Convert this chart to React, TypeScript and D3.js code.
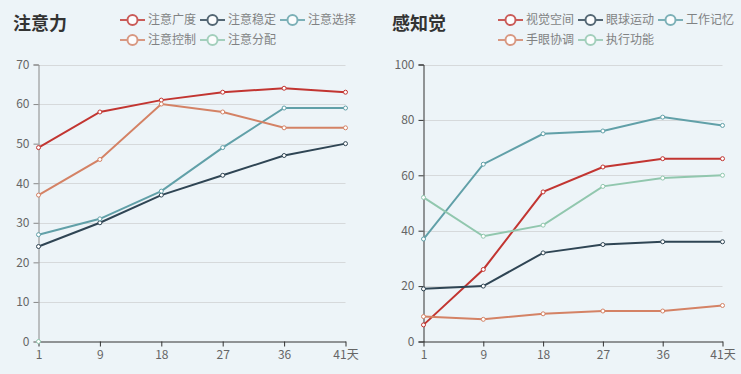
import * as d3 from 'd3';
import { useEffect, useRef } from 'react';

const days = ['1', '9', '18', '27', '36', '41天'];
const colors = ['#c23531', '#2f4554', '#61a0a8', '#d48265', '#91c7ae'];

const attentionNames = ['注意广度', '注意稳定', '注意选择', '注意控制', '注意分配'];
const attentionSpan = [49, 58, 61, 63, 64, 63];
const attentionStable = [24, 30, 37, 42, 47, 50];
const attentionSelect = [27, 31, 38, 49, 59, 59];
const attentionControl = [37, 46, 60, 58, 54, 54];
const attentionSplit = [0];

const perceptNames = ['视觉空间', '眼球运动', '工作记忆', '手眼协调', '执行功能'];
const visualSpace = [6, 26, 54, 63, 66, 66];
const eyeMove = [19, 20, 32, 35, 36, 36];
const workMemory = [37, 64, 75, 76, 81, 78];
const handEye = [9, 8, 10, 11, 11, 13];
const execFunc = [52, 38, 42, 56, 59, 60];

const FONT = '"Noto Sans CJK SC", "Noto Sans", sans-serif';

const Chart = ({ x0, title, names, series, yMax, yStep, yAxisColor }) => {
  const ref = useRef(null);

  useEffect(() => {
    const svg = d3.select(ref.current);
    svg.selectAll('*').remove();
    const g = svg.append('g').attr('transform', `translate(${x0},0)`);

    const left = x0 === 0 ? 38.5 : 423.5 - x0;
    const right = x0 === 0 ? 345.5 : 722.5 - x0;
    const top = 64.5;
    const bottom = 341.5;

    const scaleX = d3.scalePoint().domain(days).range([left, right]);
    const scaleY = d3.scaleLinear().domain([0, yMax]).range([bottom, top]);
    const ticks = d3.range(0, yMax + 1, yStep);

    // grid
    g.append('g')
      .selectAll('line')
      .data(ticks.filter((t) => t > 0))
      .enter()
      .append('line')
      .attr('x1', left)
      .attr('x2', right)
      .attr('y1', (d) => Math.round(scaleY(d)) + 0.5)
      .attr('y2', (d) => Math.round(scaleY(d)) + 0.5)
      .style('stroke', '#d6d9db');

    // y axis
    const yAxis = g
      .append('g')
      .attr('transform', `translate(${left},0)`)
      .call(d3.axisLeft(scaleY).tickValues(ticks).tickSize(5).tickPadding(4));
    yAxis.select('.domain').style('stroke', yAxisColor);
    yAxis.selectAll('line').style('stroke', yAxisColor);
    yAxis.selectAll('text').style('fill', '#666').style('font-size', '12px').style('font-family', FONT);

    // x axis
    const xAxis = g
      .append('g')
      .attr('transform', `translate(0,${bottom})`)
      .call(d3.axisBottom(scaleX).tickSize(5).tickSizeOuter(0).tickPadding(4));
    xAxis.select('.domain').style('stroke', '#333');
    xAxis.selectAll('line').style('stroke', '#333');
    xAxis.selectAll('text').style('fill', '#666').style('font-size', '12px').style('font-family', FONT);

    const line = d3
      .line()
      .x((d, i) => scaleX(days[i]))
      .y((d) => scaleY(d));

    series.forEach((values, k) => {
      g.append('path')
        .datum(values)
        .attr('d', line)
        .style('fill', 'none')
        .style('stroke', colors[k])
        .style('stroke-width', 2);
      g.append('g')
        .selectAll('circle')
        .data(values)
        .enter()
        .append('circle')
        .attr('cx', (d, i) => scaleX(days[i]))
        .attr('cy', (d) => scaleY(d))
        .attr('r', 2)
        .style('fill', '#fff')
        .style('stroke', colors[k])
        .style('stroke-width', 1);
    });

    // title
    g.append('text')
      .attr('x', x0 === 0 ? 13 : 392 - x0)
      .attr('y', 30)
      .style('font-size', '18px')
      .style('font-weight', 'bold')
      .style('fill', '#333')
      .style('font-family', FONT)
      .text(title);

    // legend
    const lx = x0 === 0 ? 120 : 498 - x0;
    names.forEach((name, k) => {
      const item = g
        .append('g')
        .attr('transform', `translate(${lx + (k % 3) * 80},${k < 3 ? 20 : 40})`)
        .style('opacity', 0.8);
      item.append('line')
        .attr('x1', 0)
        .attr('x2', 25)
        .style('stroke', colors[k])
        .style('stroke-width', 2);
      item.append('circle')
        .attr('cx', 12.5)
        .attr('r', 5)
        .style('fill', '#fff')
        .style('stroke', colors[k])
        .style('stroke-width', 2);
      item.append('text')
        .attr('x', 28)
        .attr('dy', '0.36em')
        .style('font-size', '12px')
        .style('fill', '#666')
        .style('font-family', FONT)
        .text(name);
    });
  }, []);

  return <g ref={ref}></g>;
};

export default function App() {
  return (
    <svg width={741} height={374} style={{ position: 'absolute', left: 0, top: 0, background: '#edf4f8' }}>
      <Chart
        x0={0}
        title="注意力"
        names={attentionNames}
        series={[attentionSpan, attentionStable, attentionSelect, attentionControl, attentionSplit]}
        yMax={70}
        yStep={10}
        yAxisColor="#888"
      />
      <Chart
        x0={370}
        title="感知觉"
        names={perceptNames}
        series={[visualSpace, eyeMove, workMemory, handEye, execFunc]}
        yMax={100}
        yStep={20}
        yAxisColor="#333"
      />
    </svg>
  );
}
